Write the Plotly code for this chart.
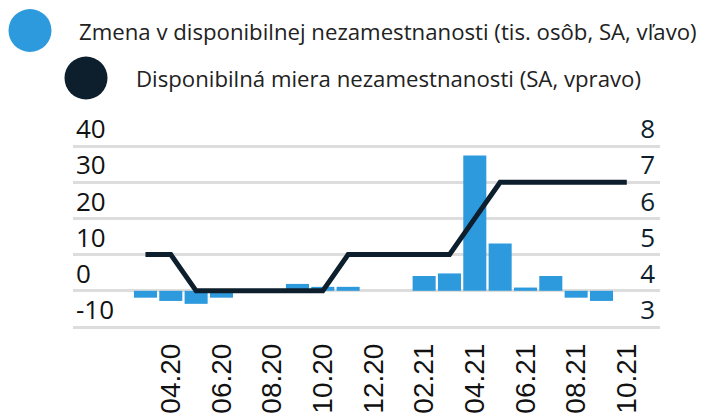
import plotly.graph_objects as go

# monthly data, 03.20 - 10.21
mesiace = ['03.20', '04.20', '05.20', '06.20', '07.20', '08.20', '09.20', '10.20', '11.20', '12.20',
           '01.21', '02.21', '03.21', '04.21', '05.21', '06.21', '07.21', '08.21', '09.21', '10.21']
zmena_nezam = [-1.9, -2.8, -3.6, -1.9, 0, 0, 1.9, 1.1, 1.1, 0,
               0, 4.1, 4.8, 37.4, 13.1, 0.9, 4.1, -1.9, -2.8, 0]
miera_nezam = [5, 5, 4, 4, 4, 4, 4, 4, 5, 5,
               5, 5, 5, 6, 7, 7, 7, 7, 7, 7]
x_ticks = mesiace[1::2]
y_ticks = [-10, 0, 10, 20, 30, 40]
y_labels = ['-10', '0', '10', '20', '30', '40']
y2_ticks = [3, 4, 5, 6, 7, 8]
nazvy = ['Zmena v disponibilnej nezamestnanosti (tis. osôb, SA, vľavo)',
         'Disponibilná miera nezamestnanosti (SA, vpravo)']

modra = '#2e9ade'
tmava = '#0d1f2d'

W, H = 701, 417
ml, mr, mt, mb = 73, 41, 95, 88
pw, ph = W - ml - mr, H - mt - mb

def px(x):
    return (x - ml) / pw

def py(y):
    return (H - mb - y) / ph

fig = go.Figure()
fig.add_trace(go.Bar(x=mesiace, y=zmena_nezam, name=nazvy[0], marker_color=modra,
                     showlegend=False, yaxis='y'))
fig.add_trace(go.Scatter(x=mesiace, y=miera_nezam, name=nazvy[1], mode='lines',
                         line=dict(color=tmava, width=5), showlegend=False, yaxis='y2'))

# legenda s velkymi kruhmi
for (cx, cy, col), (tx, ty, txt) in zip([(30, 30.5, modra), (86, 78, tmava)],
                                         [(77, 31, nazvy[0]), (134, 78, nazvy[1])]):
    fig.add_shape(type='circle', xref='paper', yref='paper', xsizemode='pixel', ysizemode='pixel',
                  xanchor=px(cx), yanchor=py(cy), x0=-21.5, x1=21.5, y0=-21.5, y1=21.5,
                  fillcolor=col, line_width=0)
    fig.add_annotation(x=px(tx), y=py(ty), xref='paper', yref='paper', text=txt, showarrow=False,
                       xanchor='left', yanchor='middle', font=dict(family='Open Sans', size=22.2, color='#222222'))

fig.update_layout(
    template='none',
    width=W, height=H,
    margin=dict(l=ml, r=mr, t=mt, b=mb, pad=0),
    plot_bgcolor='white', paper_bgcolor='white',
    bargap=0.09,
    xaxis=dict(type='category', range=[-2.86, 20.31], tickvals=x_ticks, tickangle=-90,
               tickfont=dict(family='Liberation Sans, Arial', size=28, color='#111111'),
               showgrid=False, showline=False, ticks='', ticklabelstandoff=8, automargin=False),
    yaxis=dict(range=[-10.55, 54.09], tickvals=y_ticks, ticktext=y_labels, showgrid=True,
               gridcolor='#dddddd', gridwidth=3, zeroline=False, showline=False, ticks='',
               ticklabelposition='inside', ticklabelshift=-17, ticklabelstandoff=0, automargin=False,
               tickfont=dict(family='Open Sans', size=26, color='#111111')),
    yaxis2=dict(range=[2.945, 9.409], tickvals=y2_ticks, overlaying='y', side='right',
                showgrid=False, zeroline=False, showline=False, ticks='',
                ticklabelposition='inside', ticklabelshift=-17, ticklabelstandoff=2, automargin=False,
                tickfont=dict(family='Open Sans', size=26, color=tmava)),
)

fig.write_html('out.html', config={'displayModeBar': False},
               post_script="document.body.style.margin='0';")
